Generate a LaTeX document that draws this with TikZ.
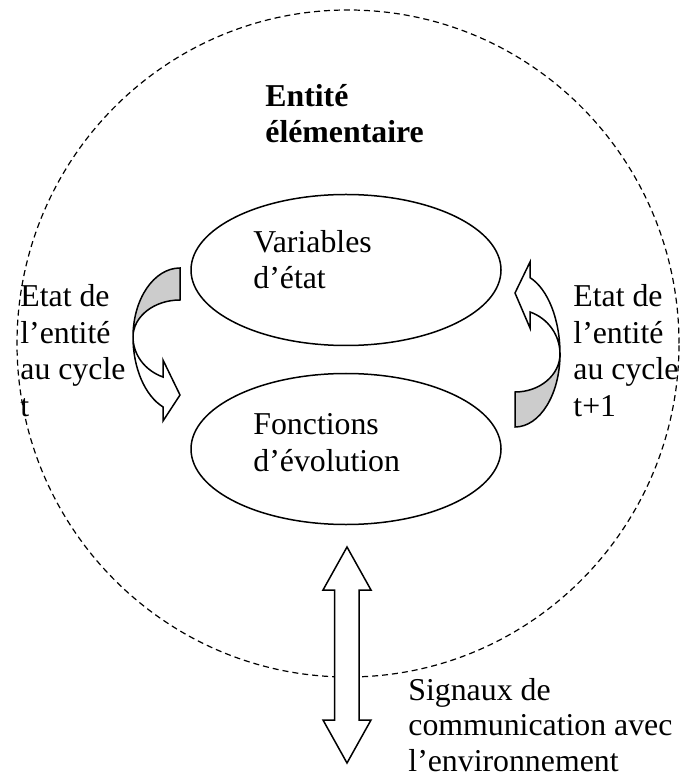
\documentclass[tikz,border=0pt]{standalone}
\usepackage{fontspec}
\setmainfont{Liberation Serif}
\usetikzlibrary{shapes.geometric}

\begin{document}
\begin{tikzpicture}
            [x=0.5pt,y=-0.5pt,line join=miter,
             every node/.style={inner sep=0pt,font=\fontsize{15.9}{18.2}\selectfont},
             bulle/.style={ellipse,draw=black,line width=0.75pt,minimum width=155pt,minimum height=75.5pt},
             texte/.style={anchor=base west,align=left},
             fleche/.style={draw=black,line width=0.75pt,fill=white}]

            \useasboundingbox (0,0) rectangle (680,779);

            % entite (cercle en pointilles)
            \node[ellipse,draw=black,line width=0.6pt,dash pattern=on 3pt off 2pt,
                  minimum width=331pt,minimum height=333.5pt] (entite) at (348,343.5) {};

            \node (var) [bulle] at (346,270) {};
            \node (fct) [bulle] at (346,449) {};

            % textes (ancre = ligne de base de la derniere ligne)
            \node[texte,font=\fontsize{15.9}{18.2}\selectfont\bfseries] (titre) at (265,143) {Entité\\élémentaire};
            \node[texte] (vartxt) at (253,289) {Variables\\d’état};
            \node[texte] (fcttxt) at (253,471) {Fonctions\\d’évolution};
            \node[texte] (cyclet) at (20,416) {Etat de\\l’entité\\au cycle\\t};
            \node[texte] (cyclet1) at (573,416) {Etat de\\l’entité\\au cycle\\t+1};
            \node[texte,font=\fontsize{15.9}{17.6}\selectfont] (signaux) at (408,771) {Signaux de\\communication avec\\l’environnement};

            % fleche courbe gauche
            \draw[fleche,fill=black!20] (180,268) arc[start angle=270,end angle=180,x radius=47,y radius=69]
                  arc[start angle=180,end angle=270,x radius=47,y radius=37] -- cycle;
            \draw[fleche] (133,337) arc[start angle=180,end angle=111.2,x radius=47,y radius=75]
                  -- (163,421) -- (180,395) -- (163,360) -- (163,377)
                  arc[start angle=111.2,end angle=180,x radius=47,y radius=43] -- cycle;

            % fleche courbe droite
            \draw[fleche,fill=black!20] (515,427) arc[start angle=90,end angle=0,x radius=45,y radius=73]
                  arc[start angle=0,end angle=90,x radius=45,y radius=38] -- cycle;
            \draw[fleche] (560,354) arc[start angle=0,end angle=-70.5,x radius=45,y radius=81]
                  -- (530,262) -- (515,293) -- (530,328) -- (530,312)
                  arc[start angle=-70.5,end angle=0,x radius=45,y radius=44.5] -- cycle;

            % signaux
            \draw[fleche] (347,547) -- (371,590) -- (359,590) -- (359,720) -- (371,720) -- (347,763)
                  -- (323,720) -- (334.5,720) -- (334.5,590) -- (323,590) -- cycle;

          \end{tikzpicture}
\end{document}
